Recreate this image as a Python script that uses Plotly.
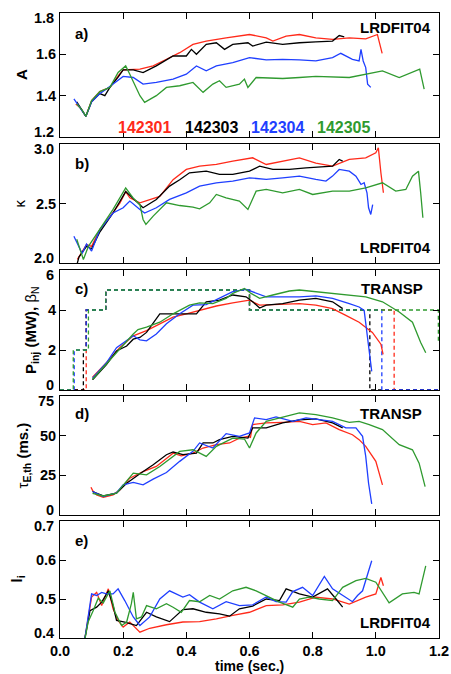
import plotly.graph_objects as go

# ---------------- data ----------------
SHOTS = ["142301", "142303", "142304", "142305"]
COLORS = ["#ff2a1a", "#000000", "#1f3fff", "#2f9a2f"]

# a) aspect ratio A (LRDFIT04)
T_A_142301 = [0.05, 0.065, 0.082, 0.1, 0.126, 0.158, 0.184, 0.2, 0.253, 0.295, 0.337, 0.379, 0.421, 0.463, 0.526, 0.6, 0.653, 0.674, 0.716, 0.758, 0.81, 0.863, 0.916, 0.968, 1.005, 1.012, 1.02]
A_142301 = [1.36, 1.34, 1.30, 1.376, 1.42, 1.44, 1.496, 1.525, 1.528, 1.544, 1.576, 1.608, 1.648, 1.664, 1.68, 1.696, 1.68, 1.664, 1.688, 1.696, 1.68, 1.672, 1.68, 1.675, 1.696, 1.65, 1.605]
T_A_142303 = [0.053, 0.07, 0.082, 0.1, 0.126, 0.142, 0.158, 0.184, 0.2, 0.232, 0.263, 0.305, 0.358, 0.4, 0.416, 0.432, 0.463, 0.495, 0.521, 0.547, 0.595, 0.61, 0.653, 0.705, 0.758, 0.81, 0.863, 0.884, 0.9]
A_142303 = [1.37, 1.33, 1.30, 1.37, 1.41, 1.40, 1.44, 1.49, 1.525, 1.525, 1.512, 1.544, 1.592, 1.592, 1.624, 1.60, 1.648, 1.656, 1.624, 1.648, 1.656, 1.64, 1.659, 1.648, 1.656, 1.66, 1.664, 1.691, 1.685]
T_A_142304 = [0.044, 0.06, 0.082, 0.1, 0.126, 0.147, 0.17, 0.2, 0.232, 0.263, 0.305, 0.358, 0.4, 0.432, 0.463, 0.495, 0.547, 0.6, 0.653, 0.705, 0.758, 0.81, 0.863, 0.889, 0.926, 0.947, 0.953, 0.96, 0.968, 0.974, 0.984]
A_142304 = [1.384, 1.35, 1.30, 1.37, 1.41, 1.432, 1.46, 1.493, 1.488, 1.456, 1.464, 1.48, 1.504, 1.544, 1.52, 1.544, 1.56, 1.584, 1.573, 1.576, 1.573, 1.568, 1.584, 1.605, 1.576, 1.568, 1.624, 1.568, 1.536, 1.456, 1.44]
T_A_142305 = [0.053, 0.07, 0.082, 0.1, 0.126, 0.158, 0.184, 0.208, 0.221, 0.237, 0.253, 0.268, 0.305, 0.337, 0.379, 0.421, 0.453, 0.484, 0.505, 0.526, 0.568, 0.584, 0.595, 0.621, 0.705, 0.758, 0.81, 0.916, 0.968, 1.021, 1.074, 1.139, 1.153]
A_142305 = [1.36, 1.33, 1.30, 1.376, 1.42, 1.44, 1.512, 1.544, 1.504, 1.456, 1.40, 1.368, 1.40, 1.44, 1.448, 1.464, 1.416, 1.456, 1.472, 1.44, 1.456, 1.48, 1.44, 1.488, 1.483, 1.488, 1.493, 1.488, 1.504, 1.52, 1.488, 1.528, 1.432]

# b) elongation kappa (LRDFIT04)
T_K_142301 = [0.055, 0.084, 0.1, 0.126, 0.158, 0.19, 0.208, 0.221, 0.253, 0.284, 0.316, 0.358, 0.4, 0.442, 0.495, 0.547, 0.61, 0.653, 0.705, 0.758, 0.81, 0.863, 0.916, 0.968, 1.0, 1.008, 1.016, 1.024]
K_142301 = [2.03, 2.155, 2.14, 2.28, 2.39, 2.506, 2.60, 2.548, 2.506, 2.534, 2.56, 2.70, 2.786, 2.814, 2.828, 2.856, 2.884, 2.828, 2.856, 2.884, 2.84, 2.814, 2.87, 2.884, 2.926, 2.968, 2.758, 2.59]
T_K_142303 = [0.05, 0.06, 0.084, 0.1, 0.126, 0.168, 0.208, 0.253, 0.263, 0.305, 0.347, 0.379, 0.41, 0.463, 0.505, 0.547, 0.6, 0.632, 0.674, 0.726, 0.779, 0.863, 0.884, 0.895]
K_142303 = [1.95, 2.05, 2.14, 2.12, 2.26, 2.42, 2.60, 2.49, 2.464, 2.534, 2.646, 2.70, 2.758, 2.772, 2.744, 2.744, 2.772, 2.814, 2.786, 2.786, 2.80, 2.814, 2.87, 2.856]
T_K_142304 = [0.044, 0.07, 0.084, 0.1, 0.126, 0.168, 0.2, 0.221, 0.253, 0.268, 0.305, 0.347, 0.4, 0.442, 0.495, 0.547, 0.6, 0.653, 0.705, 0.758, 0.81, 0.842, 0.863, 0.884, 0.916, 0.937, 0.953, 0.963, 0.972, 0.977, 0.984, 0.99]
K_142304 = [2.225, 2.08, 2.16, 2.10, 2.28, 2.42, 2.464, 2.52, 2.45, 2.42, 2.464, 2.534, 2.59, 2.646, 2.674, 2.688, 2.716, 2.702, 2.716, 2.73, 2.702, 2.688, 2.73, 2.786, 2.772, 2.73, 2.66, 2.674, 2.59, 2.464, 2.408, 2.49]
T_K_142305 = [0.053, 0.074, 0.09, 0.126, 0.168, 0.208, 0.232, 0.253, 0.263, 0.272, 0.295, 0.337, 0.379, 0.421, 0.442, 0.474, 0.495, 0.526, 0.568, 0.595, 0.621, 0.653, 0.705, 0.758, 0.8, 0.863, 0.916, 0.968, 1.021, 1.063, 1.095, 1.116, 1.135, 1.142, 1.149]
K_142305 = [2.2, 2.03, 2.14, 2.28, 2.45, 2.63, 2.545, 2.49, 2.366, 2.324, 2.394, 2.506, 2.483, 2.47, 2.455, 2.506, 2.576, 2.548, 2.52, 2.45, 2.604, 2.618, 2.59, 2.618, 2.576, 2.604, 2.604, 2.632, 2.674, 2.604, 2.618, 2.73, 2.772, 2.59, 2.38]

# c) injected power (dashed, steps) and beta_N (solid) (TRANSP)
T_P_142301 = [0.0, 0.083, 0.145, 0.6, 1.058, 1.2]
P_142301 = [0, 4, 5, 4, 0, 0]
T_P_142303 = [0.0, 0.074, 0.083, 0.145, 0.6, 0.981, 1.2]
P_142303 = [0, 2, 4, 5, 4, 0, 0]
T_P_142304 = [0.0, 0.045, 0.083, 0.145, 0.6, 1.019, 1.2]
P_142304 = [0, 2, 4, 5, 4, 0, 0]
T_P_142305 = [0.0, 0.042, 0.09, 0.145, 0.6, 1.198, 1.2]
P_142305 = [0, 2, 4, 5, 4, 2.5, 2.5]

T_B_142301 = [0.103, 0.147, 0.189, 0.232, 0.274, 0.316, 0.358, 0.4, 0.442, 0.495, 0.547, 0.6, 0.632, 0.705, 0.758, 0.81, 0.863, 0.905, 0.947, 0.989, 1.016, 1.023]
B_142301 = [0.64, 1.36, 2.12, 2.71, 2.97, 3.31, 3.64, 3.81, 3.98, 4.2, 4.36, 4.49, 4.24, 4.27, 4.32, 4.24, 4.07, 3.73, 3.39, 2.88, 2.29, 1.78]
T_B_142303 = [0.103, 0.147, 0.179, 0.211, 0.232, 0.253, 0.274, 0.316, 0.358, 0.432, 0.463, 0.505, 0.547, 0.589, 0.61, 0.632, 0.653, 0.705, 0.758, 0.81, 0.863, 0.895]
B_142303 = [0.51, 1.27, 1.95, 2.2, 2.54, 2.63, 2.88, 3.81, 3.81, 3.81, 4.41, 4.49, 4.75, 4.66, 4.41, 4.1, 4.24, 4.32, 4.49, 4.58, 4.41, 4.07]
T_B_142304 = [0.103, 0.147, 0.179, 0.211, 0.232, 0.253, 0.274, 0.305, 0.337, 0.379, 0.421, 0.463, 0.505, 0.547, 0.589, 0.61, 0.653, 0.705, 0.758, 0.81, 0.863, 0.916, 0.947, 0.963, 0.974, 0.981, 0.987]
B_142304 = [0.59, 1.36, 2.12, 2.46, 2.71, 2.51, 2.46, 2.80, 3.31, 3.81, 4.24, 4.27, 4.58, 4.92, 5.03, 4.92, 4.66, 4.66, 4.66, 4.71, 4.58, 4.32, 4.15, 3.98, 2.71, 1.69, 0.93]
T_B_142305 = [0.103, 0.147, 0.189, 0.232, 0.247, 0.274, 0.316, 0.358, 0.41, 0.442, 0.484, 0.526, 0.547, 0.584, 0.605, 0.632, 0.674, 0.726, 0.758, 0.81, 0.863, 0.916, 0.968, 1.021, 1.074, 1.116, 1.142, 1.158]
B_142305 = [0.54, 1.32, 2.03, 2.80, 3.02, 3.14, 3.39, 3.81, 4.24, 4.36, 4.32, 4.58, 4.83, 5.08, 4.83, 4.58, 4.75, 4.95, 5.0, 4.92, 4.83, 4.75, 4.66, 4.41, 3.9, 3.39, 2.37, 1.86]

# d) thermal energy confinement time (ms) (TRANSP)
T_TAU_142301 = [0.098, 0.103, 0.116, 0.137, 0.168, 0.189, 0.221, 0.263, 0.305, 0.337, 0.358, 0.384, 0.421, 0.453, 0.495, 0.537, 0.568, 0.595, 0.603, 0.61, 0.653, 0.705, 0.758, 0.8, 0.842, 0.884, 0.926, 0.947, 0.968, 1.0, 1.021]
TAU_142301 = [17.5, 15.5, 12.7, 11.2, 12.7, 15.8, 23.2, 27.4, 30.6, 35.9, 39, 37.3, 39, 42.2, 44.3, 45.4, 48.5, 49.6, 49, 57, 58, 58.4, 59, 57, 58, 53.8, 50.6, 47.5, 43.3, 33.8, 19]
T_TAU_142303 = [0.103, 0.137, 0.179, 0.211, 0.253, 0.295, 0.337, 0.358, 0.389, 0.432, 0.453, 0.484, 0.505, 0.547, 0.595, 0.61, 0.653, 0.705, 0.758, 0.81, 0.863, 0.895]
TAU_142303 = [14.8, 12, 13.7, 20, 26, 31.7, 38, 39.7, 38, 39, 45.4, 45.4, 47.5, 49.6, 48.5, 54.9, 54.9, 58, 60, 60.6, 58, 54.9]
T_TAU_142304 = [0.103, 0.137, 0.179, 0.2, 0.232, 0.263, 0.295, 0.337, 0.379, 0.421, 0.442, 0.484, 0.526, 0.568, 0.6, 0.616, 0.653, 0.684, 0.737, 0.779, 0.821, 0.863, 0.905, 0.937, 0.958, 0.968, 0.977, 0.987]
TAU_142304 = [14.8, 11.6, 14, 19, 20.5, 19, 22.6, 26.8, 33.8, 40.1, 45.4, 42.2, 51.3, 49.6, 51.7, 61.2, 60.1, 61.8, 59, 61.2, 60.1, 59, 54.9, 54.9, 49.6, 36.9, 20, 7]
T_TAU_142305 = [0.103, 0.137, 0.179, 0.232, 0.274, 0.316, 0.379, 0.421, 0.463, 0.495, 0.547, 0.584, 0.6, 0.621, 0.653, 0.705, 0.758, 0.81, 0.863, 0.916, 0.947, 0.979, 1.021, 1.074, 1.116, 1.137, 1.156]
TAU_142305 = [13.7, 12, 13.7, 26.4, 25.3, 30.6, 40.1, 41.1, 36.9, 43.3, 48.5, 47.9, 42.2, 51.7, 59, 61.8, 64.4, 63.3, 61.2, 58.4, 59, 57, 53.8, 44.3, 41.1, 32.7, 17.9]

# e) internal inductance l_i (LRDFIT04)
T_LI_142301 = [0.075, 0.079, 0.1, 0.116, 0.132, 0.153, 0.168, 0.184, 0.2, 0.221, 0.253, 0.284, 0.337, 0.389, 0.442, 0.495, 0.547, 0.6, 0.653, 0.705, 0.758, 0.81, 0.863, 0.916, 0.968, 1.0, 1.016, 1.024]
LI_142301 = [0.36, 0.40, 0.505, 0.517, 0.483, 0.526, 0.475, 0.445, 0.428, 0.441, 0.415, 0.425, 0.434, 0.441, 0.442, 0.449, 0.458, 0.466, 0.483, 0.485, 0.492, 0.505, 0.5, 0.487, 0.505, 0.513, 0.555, 0.534]
T_LI_142303 = [0.075, 0.079, 0.095, 0.116, 0.132, 0.153, 0.168, 0.179, 0.205, 0.242, 0.274, 0.305, 0.347, 0.389, 0.421, 0.463, 0.505, 0.537, 0.568, 0.61, 0.653, 0.695, 0.716, 0.758, 0.8, 0.847, 0.874, 0.895]
LI_142303 = [0.36, 0.40, 0.47, 0.479, 0.492, 0.521, 0.483, 0.445, 0.441, 0.432, 0.466, 0.454, 0.442, 0.473, 0.475, 0.466, 0.462, 0.456, 0.475, 0.482, 0.5, 0.496, 0.526, 0.513, 0.505, 0.526, 0.5, 0.479]
T_LI_142304 = [0.075, 0.079, 0.1, 0.116, 0.132, 0.147, 0.168, 0.184, 0.205, 0.232, 0.253, 0.284, 0.316, 0.347, 0.389, 0.41, 0.442, 0.484, 0.526, 0.568, 0.61, 0.653, 0.684, 0.716, 0.737, 0.768, 0.8, 0.837, 0.863, 0.905, 0.926, 0.942, 0.958, 0.987]
LI_142304 = [0.36, 0.40, 0.513, 0.509, 0.517, 0.513, 0.513, 0.526, 0.496, 0.454, 0.432, 0.454, 0.5, 0.521, 0.505, 0.511, 0.492, 0.475, 0.493, 0.483, 0.485, 0.505, 0.493, 0.492, 0.519, 0.53, 0.509, 0.558, 0.526, 0.505, 0.493, 0.509, 0.521, 0.598]
T_LI_142305 = [0.075, 0.089, 0.105, 0.121, 0.137, 0.158, 0.174, 0.195, 0.211, 0.226, 0.232, 0.242, 0.258, 0.274, 0.305, 0.337, 0.358, 0.384, 0.41, 0.442, 0.474, 0.505, 0.547, 0.589, 0.621, 0.653, 0.695, 0.737, 0.758, 0.789, 0.821, 0.863, 0.895, 0.937, 0.968, 1.0, 1.042, 1.084, 1.121, 1.137, 1.158]
LI_142305 = [0.38, 0.441, 0.47, 0.502, 0.49, 0.521, 0.466, 0.432, 0.441, 0.488, 0.517, 0.449, 0.454, 0.483, 0.475, 0.488, 0.479, 0.466, 0.496, 0.493, 0.509, 0.5, 0.521, 0.53, 0.521, 0.509, 0.492, 0.479, 0.5, 0.505, 0.5, 0.496, 0.53, 0.547, 0.553, 0.543, 0.49, 0.513, 0.517, 0.513, 0.585]

X_TICKS = [0.0, 0.2, 0.4, 0.6, 0.8, 1.0, 1.2]
Y_TICKS = {
    1: [1.2, 1.4, 1.6, 1.8],
    2: [2.0, 2.5, 3.0],
    3: [0, 2, 4, 6],
    4: [0, 25, 50, 75],
    5: [0.4, 0.5, 0.6, 0.7],
}
Y_LABELS = {
    1: ["1.2", "1.4", "1.6", "1.8"],
    2: ["2.0", "2.5", "3.0"],
    3: ["0", "2", "4", "6"],
    4: ["0", "25", "50", "75"],
    5: ["0.4", "0.5", "0.6", "0.7"],
}
Y_RANGES = {1: [1.2, 1.8], 2: [2.0, 3.0], 3: [0, 6], 4: [0, 75], 5: [0.4, 0.7]}

# ---------------- figure ----------------
FONT = "Liberation Sans, Arial, Helvetica, sans-serif"
W, H = 451, 674
ML, MR, MT, MB = 60, 12, 13, 36
PH = H - MT - MB
PANELS = {1: (13, 137), 2: (144, 263), 3: (270, 390), 4: (396, 515), 5: (521, 638)}
TICKSIZE = 14.5

fig = go.Figure()

def ax_ids(r):
    return ("x" if r == 1 else f"x{r}"), ("y" if r == 1 else f"y{r}")

def add(row, ts, vs, color, dash="solid", shape="linear"):
    xa, ya = ax_ids(row)
    fig.add_trace(go.Scatter(x=ts, y=vs, mode="lines", xaxis=xa, yaxis=ya,
                             line=dict(color=color, width=1.3, dash=dash, shape=shape),
                             showlegend=False, hoverinfo="skip"))

series_a = [(T_A_142301, A_142301), (T_A_142303, A_142303), (T_A_142304, A_142304), (T_A_142305, A_142305)]
series_k = [(T_K_142301, K_142301), (T_K_142303, K_142303), (T_K_142304, K_142304), (T_K_142305, K_142305)]
series_p = [(T_P_142301, P_142301), (T_P_142303, P_142303), (T_P_142304, P_142304), (T_P_142305, P_142305)]
series_b = [(T_B_142301, B_142301), (T_B_142303, B_142303), (T_B_142304, B_142304), (T_B_142305, B_142305)]
series_t = [(T_TAU_142301, TAU_142301), (T_TAU_142303, TAU_142303), (T_TAU_142304, TAU_142304), (T_TAU_142305, TAU_142305)]
series_l = [(T_LI_142301, LI_142301), (T_LI_142303, LI_142303), (T_LI_142304, LI_142304), (T_LI_142305, LI_142305)]

for i, c in enumerate(COLORS):
    add(1, *series_a[i], c)
    add(2, *series_k[i], c)
for i, c in enumerate(COLORS):
    add(3, *series_p[i], c, dash="4px,3px", shape="hv")
for i, c in enumerate(COLORS):
    add(3, *series_b[i], c)
    add(4, *series_t[i], c)
    add(5, *series_l[i], c)

layout = dict(width=W, height=H, margin=dict(l=ML, r=MR, t=MT, b=MB, autoexpand=False),
              paper_bgcolor="white", plot_bgcolor="white",
              font=dict(family=FONT, color="black", size=15), showlegend=False)

for r in range(1, 6):
    top, bot = PANELS[r]
    dom = [(638 - bot) / PH, (638 - top) / PH]
    xid, yid = ax_ids(r)
    xk = "xaxis" if r == 1 else f"xaxis{r}"
    yk = "yaxis" if r == 1 else f"yaxis{r}"
    xa = dict(range=[0, 1.2], tickvals=X_TICKS, tickformat=".1f",
              showticklabels=(r == 5), ticks="inside", ticklen=6, tickwidth=1,
              tickcolor="black", showline=True, linecolor="black", linewidth=1,
              mirror="ticks", showgrid=False, zeroline=False, anchor=yid, automargin=False,
              tickfont=dict(family=FONT, size=TICKSIZE, weight="bold"))
    if r != 1:
        xa["matches"] = "x"
    layout[xk] = xa
    # end labels are drawn separately (nudged inward like the original), inner ones by the axis
    inner = [lab if 0 < j < len(Y_LABELS[r]) - 1 else " " for j, lab in enumerate(Y_LABELS[r])]
    layout[yk] = dict(domain=dom, range=Y_RANGES[r], tickvals=Y_TICKS[r], ticktext=inner,
                      ticks="inside", ticklen=6, tickwidth=1, tickcolor="black",
                      showline=True, linecolor="black", linewidth=1, mirror="ticks",
                      showgrid=False, zeroline=False, anchor=xid, automargin=False,
                      tickfont=dict(family=FONT, size=TICKSIZE, weight="bold"))

fig.update_layout(**layout)

ann = []
def txt(text, xref, yref, x, y, xanchor="center", yanchor="middle", size=15, color="black",
        angle=0, yshift=0, xshift=0):
    ann.append(dict(text=text, xref=xref, yref=yref, x=x, y=y, xanchor=xanchor, yanchor=yanchor,
                    showarrow=False, textangle=angle, yshift=yshift, xshift=xshift,
                    font=dict(family=FONT, size=size, color=color)))

def px2dx(px):
    return (px - ML) / (W - ML - MR)

# end tick labels of each y axis, nudged into the panel
for r in range(1, 6):
    xid, yid = ax_ids(r)
    lo, hi = Y_RANGES[r]
    txt(f"<b>{Y_LABELS[r][0]}</b>", "paper", yid, px2dx(56), lo, xanchor="right", yshift=5, size=TICKSIZE)
    txt(f"<b>{Y_LABELS[r][-1]}</b>", "paper", yid, px2dx(56), hi, xanchor="right", yshift=-5, size=TICKSIZE)

# x-axis title
txt("<b>time (sec.)</b>", "x5 domain", "paper", 0.5, (638 - 666) / PH, size=14)

# panel letters
for r, lab, ypix in [(1, "a)", 33), (2, "b)", 163), (3, "c)", 288), (4, "d)", 413), (5, "e)", 540)]:
    top, bot = PANELS[r]
    xid, yid = ax_ids(r)
    txt(f"<b>{lab}</b>", f"{xid} domain", f"{yid} domain", px2dx(73), (bot - ypix) / (bot - top), xanchor="left")

# source labels
for r, lab, ypix, xr in [(1, "LRDFIT04", 27, 433), (2, "LRDFIT04", 247, 433), (3, "TRANSP", 288, 425),
                         (4, "TRANSP", 413, 424), (5, "LRDFIT04", 622, 433)]:
    top, bot = PANELS[r]
    xid, yid = ax_ids(r)
    txt(f"<b>{lab}</b>", f"{xid} domain", f"{yid} domain", px2dx(xr), (bot - ypix) / (bot - top), xanchor="right")

# shot legend in panel a
for s, c, xc in zip(SHOTS, COLORS, [144.5, 211, 277, 343]):
    txt(f"<b>{s}</b>", "x domain", "y domain", px2dx(xc), (137 - 127) / 124, size=16, color=c)

# y-axis titles
ylabels = [(1, "<b>A</b>", 21), (2, "κ", 19), (3, "<b>P<sub>inj</sub> (MW), </b>β<sub>N</sub>", 31),
           (4, "τ<sub><b>E,th</b></sub><b> (ms.)</b>", 23), (5, "<b>l<sub>i</sub></b>", 17)]
for r, lab, xpix in ylabels:
    xid, yid = ax_ids(r)
    txt(lab, "paper", f"{yid} domain", px2dx(xpix), 0.5, angle=-90)

fig.update_layout(annotations=ann)
fig.write_html("out.html")
